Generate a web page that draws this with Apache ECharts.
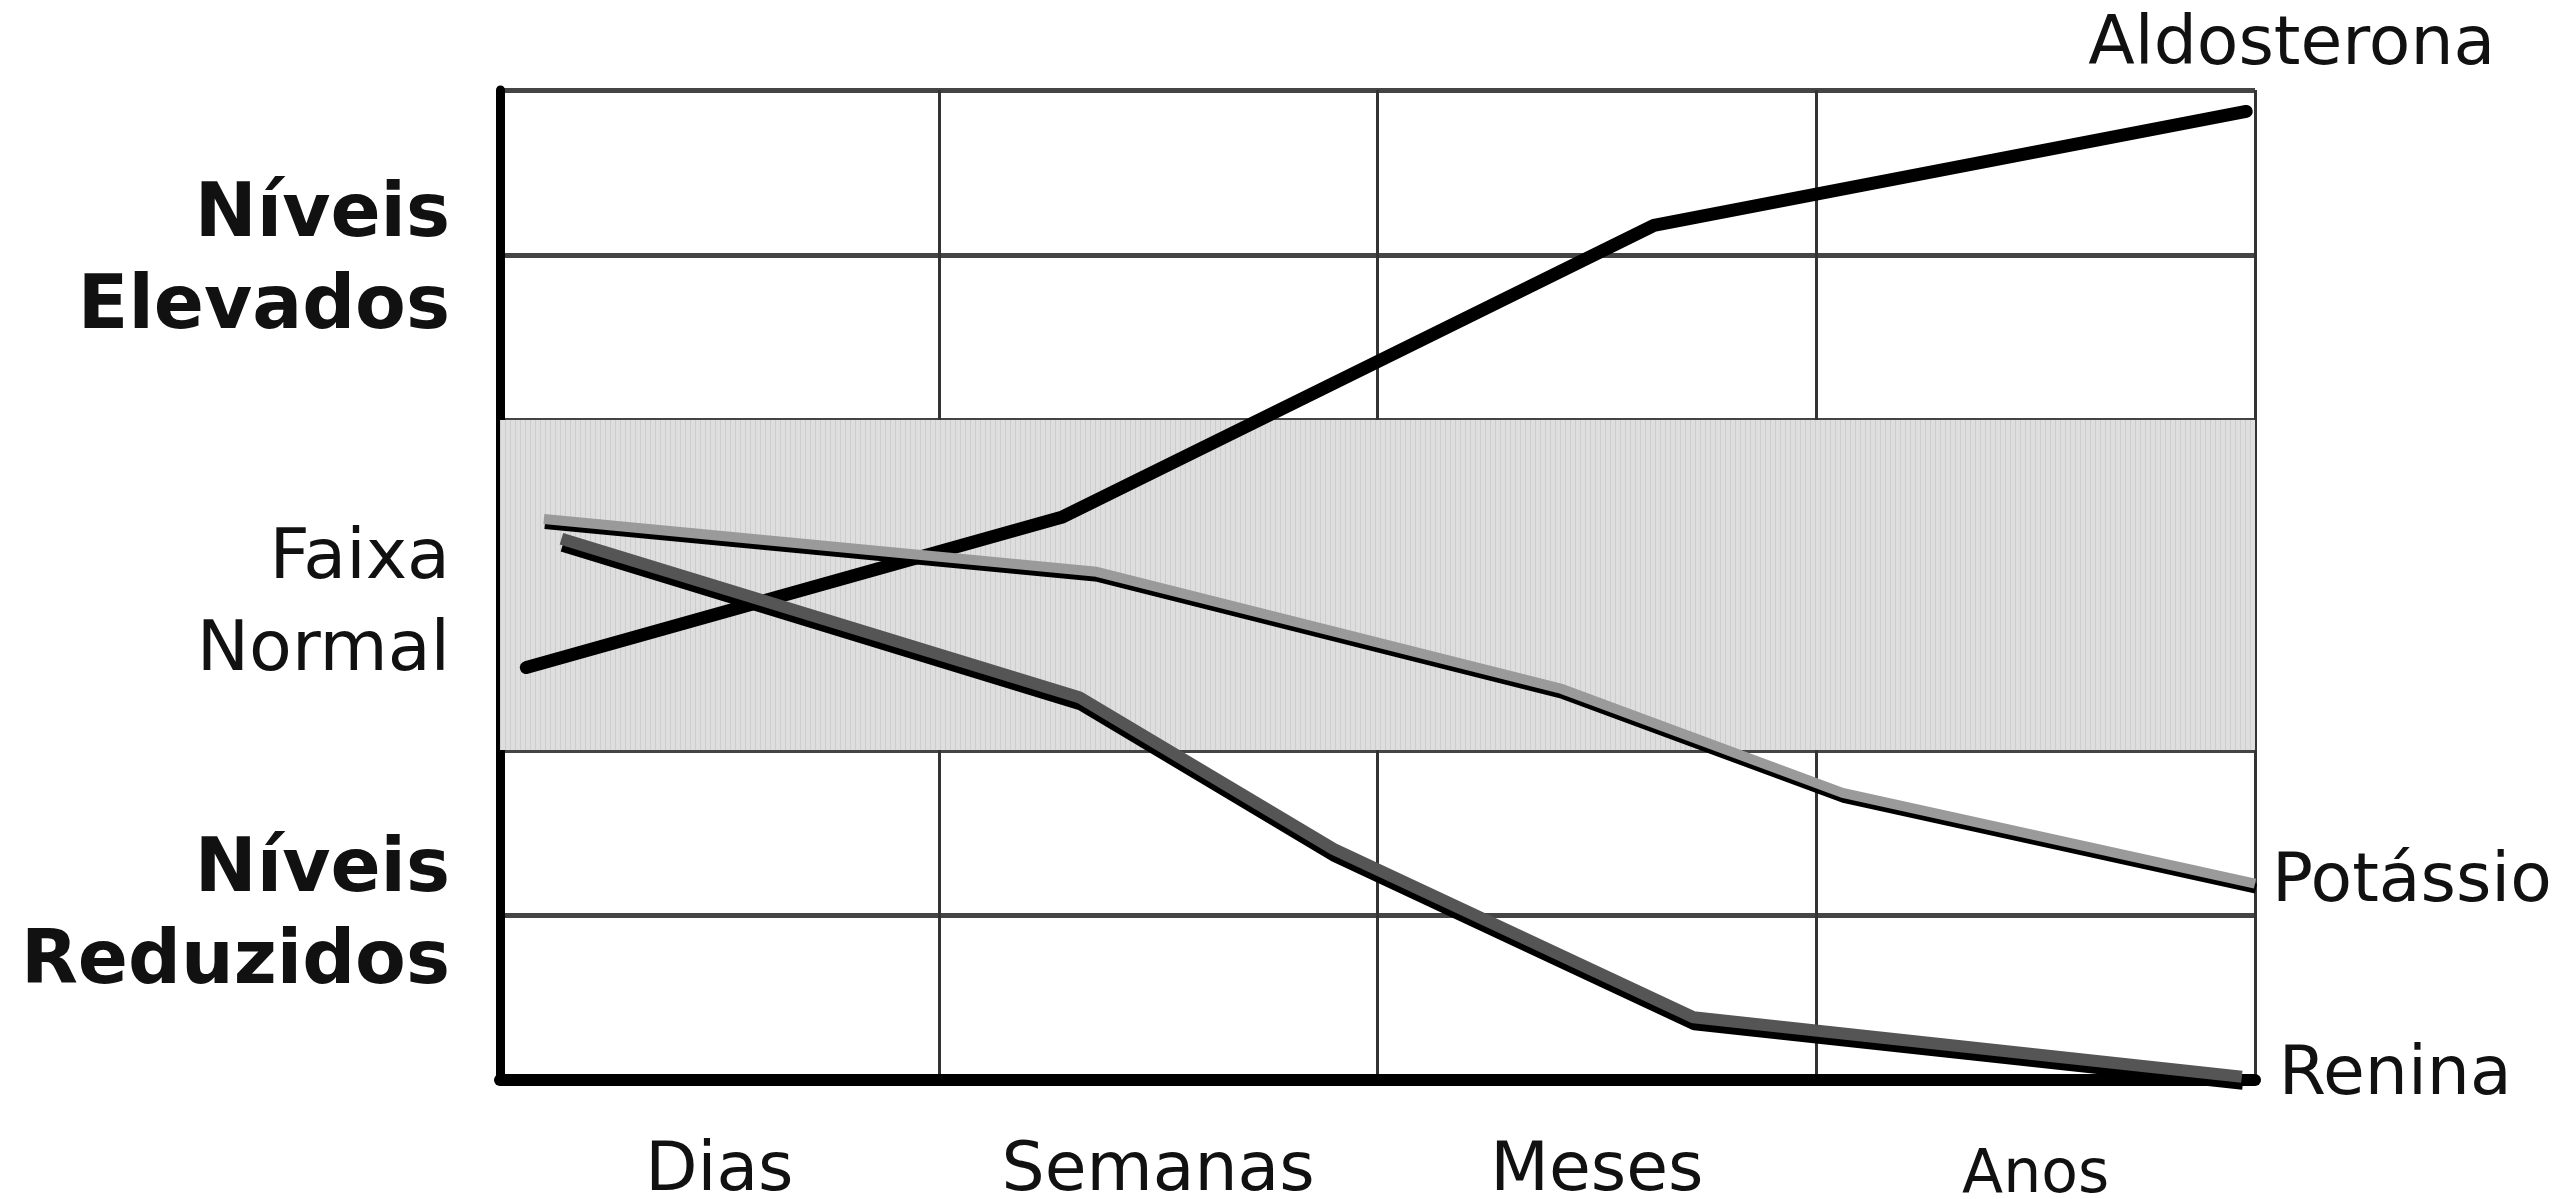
<!DOCTYPE html>
<html>
<head>
<meta charset="utf-8">
<title>Aldosterona, Potássio e Renina</title>
<script src="https://cdn.jsdelivr.net/npm/echarts@6/dist/echarts.min.js"></script>
<style>
  html, body { margin: 0; padding: 0; background: #fff; }
  #chart { width: 2560px; height: 1199px; }
</style>
</head>
<body>
<div id="chart"></div>
<script>
// eixo do tempo (faixas)
const timeCats = ['Dias', 'Semanas', 'Meses', 'Anos']

// rótulos do eixo vertical (0..6)
const levelTicks = [1, 3, 5]
const levelNames = [['Níveis', 'Reduzidos'], ['Faixa', 'Normal'], ['Níveis', 'Elevados']]
const levelStyles = ['r', 'n', 'e']
const normalBand = [2, 4]

// curvas: [tempo, nível]
const aldosterona = [[0.06, 2.50], [1.28, 3.41], [2.63, 5.18], [3.98, 5.87]]
const potassio = [[0.10, 3.40], [1.36, 3.08], [2.42, 2.37], [3.06, 1.74], [4.00, 1.19]]
const renina = [[0.14, 3.28], [1.32, 2.32], [1.90, 1.40], [2.72, 0.38], [3.97, 0.02]]

// textura de listras verticais da faixa normal
const stripe = document.createElement('canvas')
stripe.width = 5
stripe.height = 4
const sctx = stripe.getContext('2d')
sctx.fillStyle = '#dedede'
sctx.fillRect(0, 0, 5, 4)
sctx.fillStyle = '#cdcdcd'
sctx.fillRect(0, 0, 1, 4)

const chart = echarts.init(document.getElementById('chart'))

const labelFont = 'DejaVu Sans, Verdana, sans-serif'

const option = {
  backgroundColor: '#ffffff',
  animation: false,
  textStyle: { fontFamily: labelFont, color: '#111' },
  grid: { left: 500, right: 305, top: 90, bottom: 119, outerBoundsMode: 'none' },
  xAxis: [
    {
      type: 'category',
      data: timeCats,
      position: 'bottom',
      boundaryGap: true,
      axisLine: { show: true, lineStyle: { color: '#000', width: 12 } },
      axisTick: { show: false },
      splitLine: { show: false },
      axisLabel: {
        margin: 58,
        fontSize: 68,
        color: '#111',
        formatter: function (v) {
          return v === 'Anos' ? '{s|' + v + '}' : v
        },
        rich: { s: { fontSize: 60, color: '#111', padding: [8, 0, 0, 0] } }
      }
    },
    {
      type: 'value',
      position: 'top',
      min: 0,
      max: 4,
      interval: 1,
      axisLine: { show: false },
      axisTick: { show: false },
      axisLabel: { show: false },
      splitLine: { show: true, lineStyle: { color: '#333', width: 3 } }
    }
  ],
  yAxis: {
    type: 'value',
    min: 0,
    max: 6,
    interval: 1,
    axisLine: { show: true, lineStyle: { color: '#000', width: 9 } },
    axisTick: { show: false },
    splitLine: { show: true, lineStyle: { color: '#444', width: 5 } },
    axisLabel: {
      margin: 50,
      formatter: function (v) {
        const i = levelTicks.indexOf(v)
        if (i < 0) return ''
        const s = levelStyles[i]
        return '{' + s + '|' + levelNames[i][0] + '}\n{' + s + '|' + levelNames[i][1] + '}'
      },
      rich: {
        e: { fontSize: 74, fontWeight: 'bold', lineHeight: 92, color: '#111', padding: [16, 0, 0, 0] },
        r: { fontSize: 74, fontWeight: 'bold', lineHeight: 92, color: '#111', padding: [6, 0, 0, 0] },
        n: { fontSize: 70, lineHeight: 92, color: '#111', padding: [42, 0, 0, 0] }
      }
    }
  },
  series: [
    {
      // faixa normal (abaixo das linhas de grade)
      type: 'line',
      xAxisIndex: 1,
      z: -1,
      data: [],
      silent: true,
      markArea: {
        silent: true,
        itemStyle: { color: { image: stripe, repeat: 'repeat' } },
        data: [[{ yAxis: normalBand[0] }, { yAxis: normalBand[1] }]]
      }
    },
    {
      name: 'Aldosterona',
      type: 'line',
      xAxisIndex: 1,
      data: aldosterona,
      showSymbol: false,
      clip: false,
      lineStyle: { color: '#000', width: 13, join: 'round', cap: 'round' },
      endLabel: {
        show: true,
        formatter: '{a}',
        fontSize: 68,
        color: '#111',
        distance: 18,
        offset: [-176, -65]
      }
    },
    {
      name: 'Potássio',
      type: 'line',
      xAxisIndex: 1,
      data: potassio,
      showSymbol: false,
      clip: false,
      lineStyle: {
        color: '#9a9a9a', width: 10, join: 'round',
        shadowColor: '#000', shadowBlur: 0, shadowOffsetX: 1, shadowOffsetY: 5
      },
      endLabel: { show: true, formatter: '{a}', fontSize: 68, color: '#111', distance: 17 }
    },
    {
      name: 'Renina',
      type: 'line',
      xAxisIndex: 1,
      data: renina,
      showSymbol: false,
      clip: false,
      lineStyle: {
        color: '#555', width: 12, join: 'round',
        shadowColor: '#000', shadowBlur: 0, shadowOffsetX: 1, shadowOffsetY: 7
      },
      endLabel: { show: true, formatter: '{a}', fontSize: 68, color: '#111', distance: 37 }
    }
  ]
}

chart.setOption(option)
</script>
</body>
</html>
